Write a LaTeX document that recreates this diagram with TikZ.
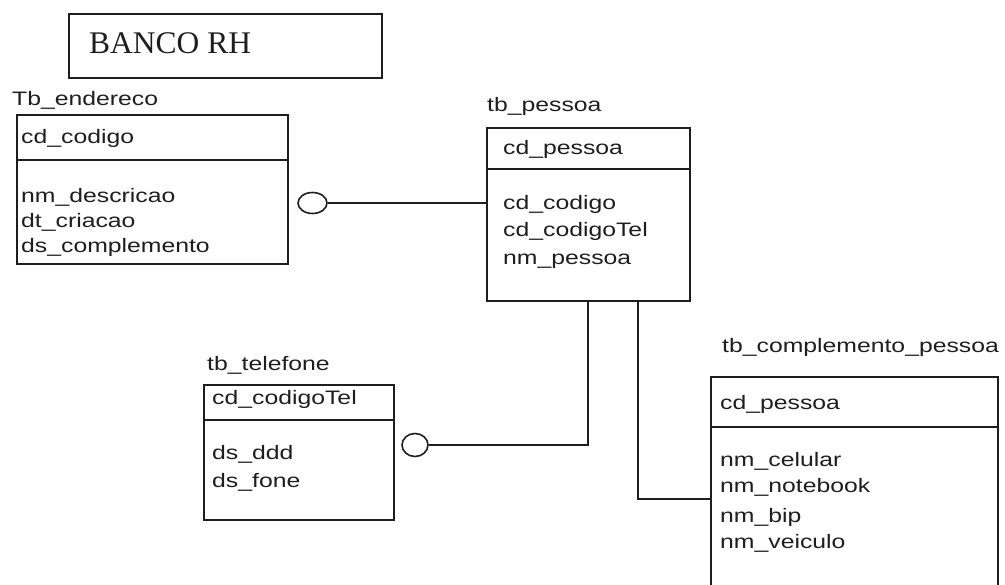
\documentclass[tikz,border=0pt]{standalone}
\usepackage{fontspec}
\setmainfont{Liberation Serif}
\newfontfamily\tabfont[FakeStretch=1.27]{Liberation Sans}
\usetikzlibrary{shapes.geometric}
\definecolor{ink}{HTML}{1E1E1E}
\tikzset{
  tablebox/.style={draw=ink, line width=1.6pt, rectangle, inner sep=0pt, anchor=north west},
  field/.style={anchor=base west, inner sep=0pt, text=ink, font=\tabfont\fontsize{19.5}{22}\selectfont},
  rule/.style={draw=ink, line width=1.6pt},
  link/.style={draw=ink, line width=1.6pt},
  optional/.style={draw=ink, line width=1.6pt, ellipse, inner sep=0pt, fill=white}
}
\begin{document}
\begin{tikzpicture}[x=1pt, y=-1pt]
\useasboundingbox (0,0) rectangle (1005,585);
\clip (0,0) rectangle (1005,585);
\fill[white] (0,0) rectangle (1005,585);

% title box
\node[tablebox, minimum width=313pt, minimum height=64pt] (title) at (68,13) {};
\node[anchor=base west, inner sep=0pt, font=\fontsize{31.5}{36}\selectfont, text=ink] (titletext) at (89,54) {BANCO RH};

% Tb_endereco
\node[field] (endname) at (12,106) {Tb\_endereco};
\node[tablebox, minimum width=271pt, minimum height=149pt] (end) at (16,114) {};
\draw[rule] (16,160) -- (287,160);
\node[field] (end1) at (21,144) {cd\_codigo};
\node[field] (end2) at (21,203) {nm\_descricao};
\node[field] (end3) at (21,228) {dt\_criacao};
\node[field] (end4) at (21,253) {ds\_complemento};

% tb_pessoa
\node[field] (pesname) at (487,112) {tb\_pessoa};
\node[tablebox, minimum width=203pt, minimum height=173pt] (pes) at (486,127) {};
\draw[rule] (486,169) -- (689,169);
\node[field] (pes1) at (503,155) {cd\_pessoa};
\node[field] (pes2) at (503,210) {cd\_codigo};
\node[field] (pes3) at (503,237) {cd\_codigoTel};
\node[field] (pes4) at (503,265) {nm\_pessoa};

% tb_telefone
\node[field] (telname) at (207,371) {tb\_telefone};
\node[tablebox, minimum width=190pt, minimum height=135pt] (tel) at (203,384) {};
\draw[rule] (203,420) -- (393,420);
\node[field] (tel1) at (212,405) {cd\_codigoTel};
\node[field] (tel2) at (212,460) {ds\_ddd};
\node[field] (tel3) at (212,488) {ds\_fone};

% tb_complemento_pessoa
\node[field] (cmpname) at (722,353) {tb\_complemento\_pessoa};
\node[tablebox, minimum width=287pt, minimum height=240pt] (cmp) at (710,376) {};
\draw[rule] (710,427) -- (997,427);
\node[field] (cmp1) at (720,410) {cd\_pessoa};
\node[field] (cmp2) at (720,467) {nm\_celular};
\node[field] (cmp3) at (720,493) {nm\_notebook};
\node[field] (cmp4) at (720,522) {nm\_bip};
\node[field] (cmp5) at (720,548) {nm\_veiculo};

% relationships
\node[optional, minimum width=29pt, minimum height=21pt] (opt1) at (312.5,203) {};
\draw[link] (opt1.east) -- (opt1.east -| pes.west);

\node[optional, minimum width=26pt, minimum height=23pt] (opt2) at (415,445) {};
\draw[link] ([xshift=102pt]pes.south west) |- (opt2.east);

\draw[link] ([xshift=152pt]pes.south west) |- ([yshift=-123pt]cmp.north west);
\end{tikzpicture}
\end{document}
